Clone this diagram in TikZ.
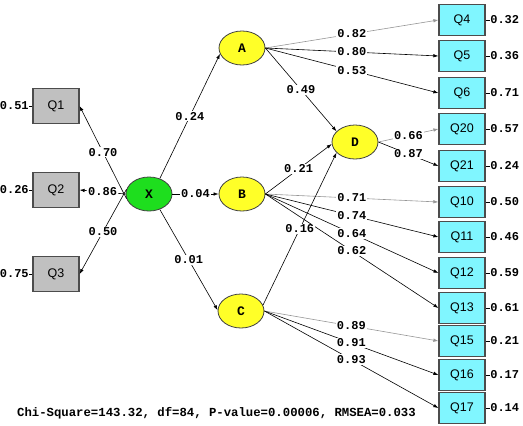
\documentclass[tikz,border=0pt]{standalone}
\usepackage{fontspec}
\setmonofont{Liberation Mono}
\setsansfont{Liberation Sans}
\usetikzlibrary{arrows.meta,positioning,shapes.geometric}
\definecolor{Ind}{RGB}{128,246,255}
\definecolor{Obs}{RGB}{192,192,192}
\definecolor{Exo}{RGB}{30,222,30}
\definecolor{Endo}{RGB}{255,255,40}
\definecolor{Fixed}{RGB}{150,150,150}
\tikzset{
  latent/.style={ellipse,draw=black!75,line width=.8pt,minimum width=46pt,minimum height=34pt,inner sep=0pt,
    font=\ttfamily\bfseries\fontsize{13}{13}\selectfont},
  obsbox/.style={draw=black!70,line width=1.2pt,fill=Obs,minimum width=46pt,minimum height=35pt,inner sep=0pt,
    font=\sffamily\fontsize{12.5}{12.5}\selectfont},
  indbox/.style={obsbox,fill=Ind,minimum height=31pt},
  coef/.style={fill=white,inner sep=1pt,font=\ttfamily\bfseries\fontsize{12}{12}\selectfont},
  errlab/.style={coef,fill=none,inner sep=.5pt},
  load/.style={-{Latex[length=5pt,width=3.5pt]},line width=.6pt},
  fixed/.style={load,draw=Fixed},
}
\begin{document}
\begin{tikzpicture}[x=1pt,y=-1pt]
  \useasboundingbox (0,0) rectangle (523,426);
  % latent variables
  \node[latent,fill=Exo] (X) at (149,194) {X};
  \node[latent,fill=Endo] (A) at (242,48) {A};
  \node[latent,fill=Endo] (B) at (242,194) {B};
  \node[latent,fill=Endo] (C) at (241,311) {C};
  \node[latent,fill=Endo] (D) at (355,142) {D};
  % observed variables with error variances
  \foreach \n/\y/\e in {1/106/0.51,2/190/0.26,3/274/0.75}{
    \node[obsbox] (Q\n) at (56,\y) {Q\n};
    \node[errlab,left=3pt of Q\n] (eQ\n) {\e};
    \draw[line width=.6pt] (eQ\n) -- (Q\n);
  }
  \foreach \n/\y/\e in {4/20/0.32,5/56/0.36,6/93/0.71,20/129/0.57,21/166/0.24,10/202/0.50,
      11/237/0.46,12/273/0.59,13/308/0.61,15/341/0.21,16/375/0.17,17/408/0.14}{
    \node[indbox] (Q\n) at (462,\y) {Q\n};
    \node[errlab,right=4pt of Q\n] (eQ\n) {\e};
    \draw[line width=.6pt] (eQ\n) -- (Q\n);
  }
  % loadings of X
  \draw[load] (X.192) -- node[coef] {0.70} (Q1.east);
  \draw[load] (X.west) -- node[coef] {0.86} (Q2.east);
  \draw[load] (X.168) -- node[coef] {0.50} (Q3.east);
  % loadings of A, B, C, D
  \draw[fixed] (A.east) -- node[coef] {0.82} (Q4.west);
  \foreach \q/\v in {5/0.80,6/0.53} \draw[load] (A.east) -- node[coef] {\v} (Q\q.west);
  \draw[fixed] (B.east) -- node[coef] {0.71} (Q10.west);
  \foreach \q/\v in {11/0.74,12/0.64,13/0.62} \draw[load] (B.east) -- node[coef] {\v} (Q\q.west);
  \draw[fixed] (C.east) -- node[coef] {0.89} (Q15.west);
  \foreach \q/\v in {16/0.91,17/0.93} \draw[load] (C.east) -- node[coef] {\v} (Q\q.west);
  \draw[fixed] (D.east) -- node[coef] {0.66} (Q20.west);
  \draw[load] (D.east) -- node[coef] {0.87} (Q21.west);
  % structural paths
  \draw[load] (X.55) -- node[coef] {0.24} (A.195);
  \draw[load] (X.east) -- node[coef] {0.04} (B.west);
  \draw[load] (X.-55) -- node[coef] {0.01} (C.178);
  \draw[load] (A.east) -- node[coef] {0.49} (D.150);
  \draw[load] (B.east) -- node[coef] {0.21} (D.185);
  \draw[load] (C.15) -- node[coef] {0.16} (D.210);
  % fit statistics
  \node[coef,fill=none,anchor=west,font=\ttfamily\bfseries\fontsize{12.3}{12.3}\selectfont] (fit) at (16,413)
    {Chi-Square=143.32, df=84, P-value=0.00006, RMSEA=0.033};
\end{tikzpicture}
\end{document}
